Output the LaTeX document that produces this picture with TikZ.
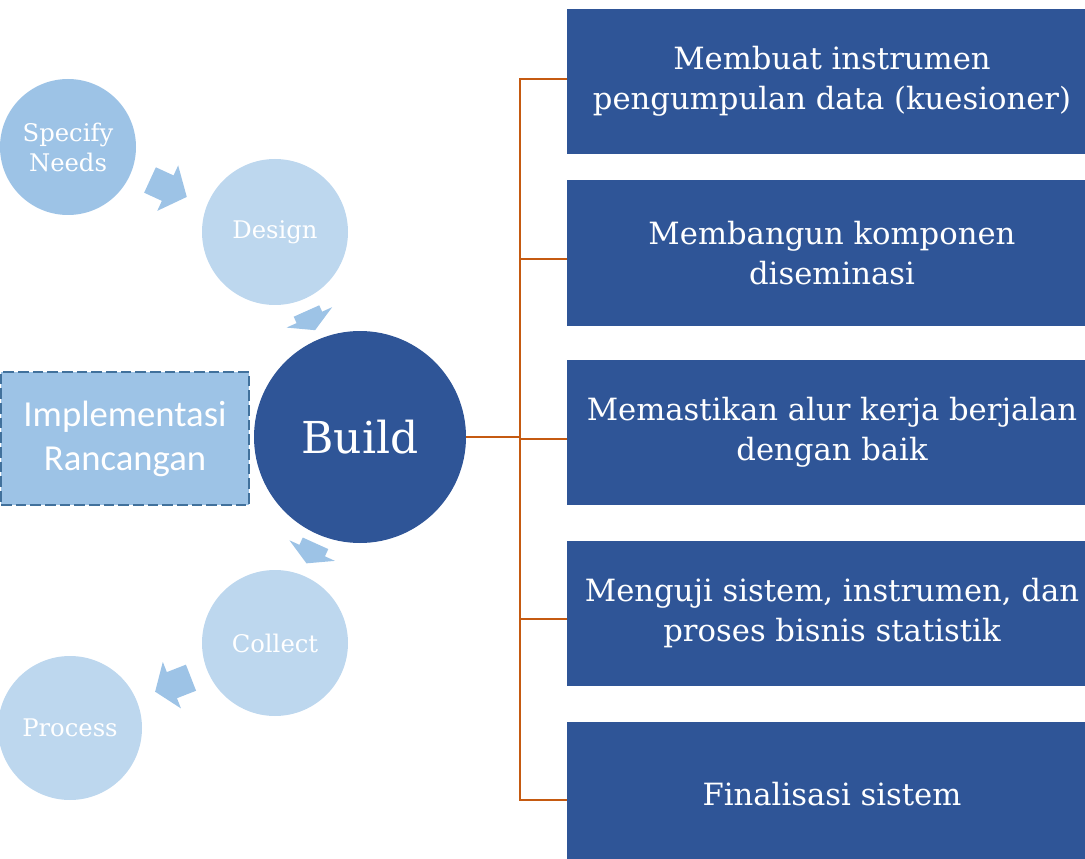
\documentclass[tikz,border=0pt]{standalone}
\usepackage{fontspec}
\setmainfont{DejaVu Serif}
\newfontfamily\calibri{Carlito}
\usetikzlibrary{positioning}

\definecolor{navy}{HTML}{2F5597}
\definecolor{sky}{HTML}{9DC3E6}
\definecolor{pale}{HTML}{BDD7EE}
\definecolor{rust}{HTML}{C55A11}
\definecolor{edge}{HTML}{41719C}

% block arrow of the cycle: tail x, tail y, angle, shaft, head
\newcommand\cyclearrow[5]{%
  \fill[sky,shift={(#1,#2)},rotate=#3] (0,-14) -- (#4,-14) -- (#4,-25)
    -- ({#4+#5},0) -- (#4,25) -- (#4,14) -- (0,14) -- cycle;}

\begin{document}
\begin{tikzpicture}[x=0.75pt,y=-0.75pt,
    stage/.style={circle,fill=pale,text=white,inner sep=0pt,align=center,
      font=\fontsize{18.2}{22.5}\selectfont},
    task/.style={rectangle,fill=navy,text=white,inner sep=0pt,
      minimum width=397.5pt,minimum height=108.75pt,align=center,
      font=\fontsize{23}{30}\selectfont},
    link/.style={rust,line width=1.5pt}]
\clip (0,0) rectangle (1085,859);

% arrows first, the circles lie over them
\cyclearrow{150}{180}{-24.7}{19.5}{21}
\cyclearrow{306.5}{311}{-65.9}{7}{14}
\cyclearrow{315.5}{543.3}{-114.3}{8}{14}
\cyclearrow{191}{677.7}{201.3}{20.5}{18}

\node[stage,fill=sky,minimum size=102pt] (needs) at (68,147) {Specify\\Needs};
\node[stage,minimum size=109.5pt] (design) at (275,232) {Design};
\node[stage,fill=navy,minimum size=159pt,
      font=\fontsize{33}{40}\selectfont] (build) at (360,437) {Build};
\node[stage,minimum size=109.5pt] (collect) at (275,643) {Collect};
\node[stage,minimum size=108pt] (process) at (70,728) {Process};

\node[draw=edge,dash pattern=on 8pt off 3pt,line width=1.5pt,fill=sky,
      text=white,align=center,minimum width=186pt,minimum height=99.75pt,
      inner sep=0pt,font=\calibri\fontsize{27.5}{33}\selectfont] (impl) at (125,438.5)
      {Implementasi\\Rancangan};

% build steps
\foreach \n/\y/\txt in {1/81.5/{Membuat instrumen\\pengumpulan data (kuesioner)},
    2/253/{Membangun komponen\\diseminasi},
    3/432.5/{Memastikan alur kerja berjalan\\dengan baik},
    4/613/{Menguji sistem, instrumen, dan\\proses bisnis statistik},
    5/794.5/{Finalisasi sistem}}
  \node[task] (task\n) at (832,\y) {\txt};

% bracket from Build to the steps
\foreach \n/\y in {1/79,2/259,3/439,4/619,5/800}
  \coordinate (s\n) at (520,\y);
\coordinate (hub) at (build.east -| s1);
\draw[link] (build.east) -- (hub);
\draw[link] (s1 -| task1.west) -- (s1) -- (s5) -- (s5 -| task5.west);
\foreach \n in {2,3,4}
  \draw[link] (s\n) -- (s\n -| task\n.west);
\end{tikzpicture}
\end{document}
